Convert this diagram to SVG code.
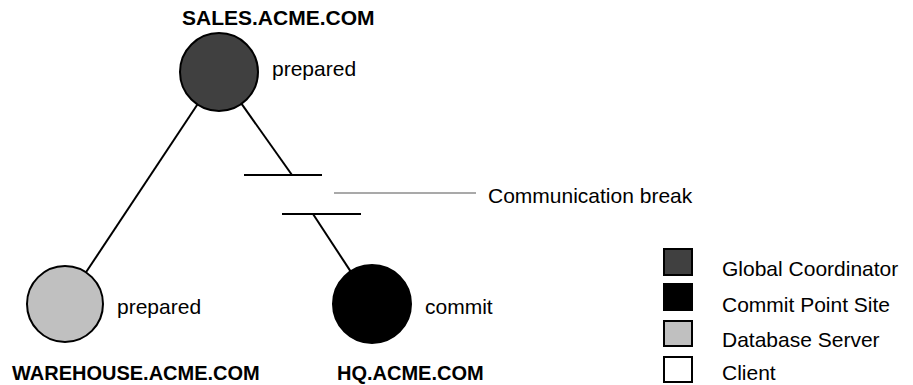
<svg xmlns="http://www.w3.org/2000/svg" width="913" height="385" viewBox="0 0 913 385">
<style>
.bold{font-family:"Liberation Sans",Arial,sans-serif;font-weight:bold;font-size:20px;fill:#000}
.lbl{font-family:"Liberation Sans",Arial,sans-serif;font-size:21px;fill:#000}
.node{stroke:#000;stroke-width:2}
.conn{stroke:#000;stroke-width:2;fill:none}
.key{stroke:#000;stroke-width:2}
</style>
<rect width="913" height="385" fill="#fff"/>
<g id="connectors">
<line class="conn" x1="197.4" y1="104.5" x2="86" y2="272.3"/>
<line class="conn" x1="241.6" y1="103.9" x2="292" y2="175"/>
<line class="conn" x1="244" y1="175" x2="322" y2="175"/>
<line class="conn" x1="282" y1="214" x2="361" y2="214"/>
<line class="conn" x1="313" y1="214" x2="350.6" y2="271.4"/>
<line x1="334" y1="193" x2="476" y2="193" stroke="#555" stroke-width="1.2"/>
</g>
<g id="sales">
<circle class="node" cx="219" cy="72" r="39" fill="#404040"/>
<text class="bold" x="182" y="25" style="font-size:21px">SALES.ACME.COM</text>
<text class="lbl" x="272" y="76">prepared</text>
</g>
<g id="warehouse">
<circle class="node" cx="65" cy="304" r="38" fill="#c0c0c0"/>
<text class="bold" x="12" y="380">WAREHOUSE.ACME.COM</text>
<text class="lbl" x="117" y="314">prepared</text>
</g>
<g id="hq">
<circle class="node" cx="372" cy="304" r="39" fill="#000"/>
<text class="bold" x="337" y="380">HQ.ACME.COM</text>
<text class="lbl" x="425" y="314">commit</text>
</g>
<g id="break-label">
<text class="lbl" x="488" y="203">Communication break</text>
</g>
<g id="legend">
<rect class="key" x="664" y="249" width="28" height="26" fill="#404040"/>
<text class="lbl" x="722" y="276">Global Coordinator</text>
<rect class="key" x="664" y="284" width="28" height="26" fill="#000"/>
<text class="lbl" x="722" y="312">Commit Point Site</text>
<rect class="key" x="664" y="321" width="28" height="25" fill="#c0c0c0"/>
<text class="lbl" x="722" y="347">Database Server</text>
<rect class="key" x="664" y="357" width="28" height="25" fill="#fff"/>
<text class="lbl" x="722" y="380">Client</text>
</g>
</svg>
